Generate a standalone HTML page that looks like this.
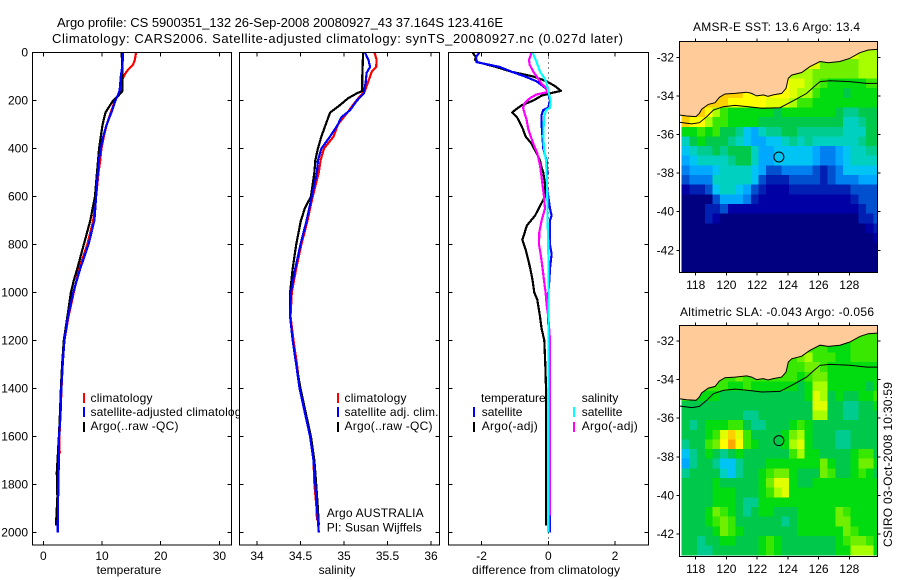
<!DOCTYPE html>
<html>
<head>
<meta charset="utf-8">
<title>Argo profile 5900351_132</title>
<style>
html,body{margin:0;padding:0;background:#fff}
svg{display:block}
text{font-family:"Liberation Sans",sans-serif;font-size:12px;fill:#000}
</style>
</head>
<body>
<svg id="chart" xmlns="http://www.w3.org/2000/svg" width="900" height="580" viewBox="0 0 900 580">
<rect x="0" y="0" width="900" height="580" fill="#fff"/>
<text x="57" y="27" textLength="446" style="font-size:13px">Argo profile: CS 5900351_132 26-Sep-2008 20080927_43 37.164S 123.416E</text>
<text x="52" y="43" textLength="571" style="font-size:13px">Climatology: CARS2006. Satellite-adjusted climatology: synTS_20080927.nc (0.027d later)</text>
<g id="layer"></g>
<text x="693" y="31" textLength="167">AMSR-E SST: 13.6  Argo: 13.4</text>
<text x="680" y="316" textLength="194">Altimetric SLA: -0.043  Argo: -0.056</text>
<text transform="translate(892,547) rotate(-90)" textLength="165">CSIRO 03-Oct-2008 10:30:59</text>
</svg>
<script>
/* ---------- axis tick labels ---------- */
const depthTicks = [0,200,400,600,800,1000,1200,1400,1600,1800,2000];
const tempTicks = [0,10,20,30];
const salTicks = [34,34.5,35,35.5,36];
const diffTicks = [-2,0,2];
const lonTicks = [118,120,122,124,126,128];
const latTicks = [-32,-34,-36,-38,-40,-42];

/* ---------- temperature panel ---------- */
const tempClimDepth = [0,30,50,70,90,110,160,200,250,300,350,400,450,500,600,700,800,900,1000,1100,1200,1300,1400,1500,1600,1670];
const tempClimValue = [15.8,15.6,15.3,14.5,13.9,13.5,13.1,12.2,11.5,10.8,10.3,9.9,9.7,9.4,9.0,8.5,7.5,6.1,5.2,4.3,3.6,3.3,3.1,2.95,2.75,2.8];
const tempSatDepth = [0,50,100,160,200,250,300,350,400,450,500,600,700,800,900,1000,1100,1200,1300,1400,1500,1600,1700,1800,1900,2000];
const tempSatValue = [13.6,13.5,13.2,13.0,12.3,11.6,10.8,10.2,9.8,9.45,9.3,9.0,8.7,7.7,6.3,5.1,4.2,3.6,3.3,3.07,2.95,2.7,2.65,2.55,2.5,2.45];
const tempArgoDepth = [0,100,160,180,200,230,250,300,350,400,500,600,650,700,800,900,950,1000,1100,1200,1300,1400,1500,1600,1750,1850,1950,1970];
const tempArgoValue = [13.35,13.5,13.5,12.8,11.9,11.1,10.6,10.1,9.8,9.5,9.15,8.8,8.4,8.0,6.9,5.8,5.2,4.7,4.1,3.5,3.2,3.0,2.85,2.65,2.3,2.4,2.2,2.2];

/* ---------- salinity panel ---------- */
const salClimDepth = [0,30,60,80,110,160,190,220,250,300,350,400,450,500,600,700,800,900,1000,1100,1200,1300,1400,1500,1600,1700,1800,1900,1950];
const salClimValue = [35.35,35.375,35.37,35.32,35.29,35.24,35.165,35.1,35.04,34.93,34.88,34.77,34.73,34.71,34.64,34.58,34.51,34.45,34.4,34.385,34.42,34.46,34.49,34.55,34.61,34.65,34.66,34.685,34.69];
const salSatDepth = [0,30,60,85,120,170,200,240,270,300,350,400,450,500,600,700,800,900,1000,1100,1200,1300,1400,1500,1600,1700,1800,1900,2000];
const salSatValue = [35.24,35.28,35.30,35.26,35.25,35.23,35.15,35.07,34.97,34.93,34.84,34.74,34.70,34.69,34.63,34.57,34.50,34.44,34.39,34.38,34.41,34.45,34.49,34.55,34.61,34.65,34.67,34.69,34.71];
const salArgoDepth = [0,100,160,170,190,220,250,300,350,400,450,500,600,650,700,800,900,1000,1100,1200,1300,1400,1500,1600,1700,1800,1900,1970];
const salArgoValue = [35.22,35.21,35.21,35.15,35.05,34.95,34.84,34.79,34.74,34.70,34.67,34.66,34.62,34.55,34.505,34.45,34.41,34.38,34.38,34.41,34.45,34.5,34.56,34.62,34.66,34.68,34.7,34.71];

/* ---------- difference panel ---------- */
const diffTempSatDepth = [0,20,40,60,80,100,120,150,170,200,230,240,260,300,400,450,500,550,600,650,680,700,750,800,840,900,950,1000,1100,1500,2000];
const diffTempSatValue = [-2.07,-2.17,-2.15,-1.46,-1.1,-0.7,-0.35,-0.07,0,0.05,0,-0.15,-0.2,-0.2,-0.15,-0.05,-0.03,-0.05,0,0.05,0.1,0.05,0.05,0.05,0.1,0.05,0.03,0,0,0.02,0.05];
const diffTempArgoDepth = [0,20,30,40,60,80,100,120,140,160,170,180,200,220,240,250,270,290,320,350,380,420,450,480,500,550,600,640,680,720,781,820,900,950,1000,1030,1100,1150,1200,1300,1400,1970];
const diffTempArgoValue = [-2.27,-2.17,-2.2,-2.12,-1.57,-1.11,-0.45,-0.05,0.2,0.38,0.05,-0.2,-0.45,-0.8,-1.0,-1.08,-0.94,-0.86,-0.76,-0.68,-0.5,-0.35,-0.25,-0.2,-0.15,-0.1,-0.1,-0.25,-0.4,-0.64,-0.78,-0.68,-0.54,-0.47,-0.42,-0.33,-0.25,-0.2,-0.12,-0.09,-0.07,-0.07];
const diffSalSatDepth = [0,40,80,100,120,160,200,230,240,270,350,400,450,500,600,700,800,1000,1500,2000];
const diffSalSatValue = [-0.47,-0.35,-0.25,-0.15,-0.07,0,0.07,0.05,-0.07,-0.13,-0.15,-0.13,-0.07,-0.05,-0.03,-0.02,0,0.01,0,0];
const diffSalArgoDepth = [0,20,30,50,80,110,130,150,165,175,190,210,230,260,280,320,380,420,470,520,600,650,700,750,800,850,900,950,1000,1050,1100,1200,1930];
const diffSalArgoValue = [-0.5,-0.55,-0.58,-0.56,-0.45,-0.3,-0.2,-0.05,-0.03,-0.35,-0.55,-0.7,-0.76,-0.7,-0.65,-0.6,-0.45,-0.33,-0.25,-0.2,-0.13,-0.1,-0.2,-0.27,-0.28,-0.22,-0.17,-0.13,-0.08,-0.05,0,0.05,0.05];

/* ---------- map data: colour-scale level for each half-degree cell ---------- */
const sstLevels = [
[14,14,14,14,14,14,14,14,14,14,14,14,14,14,14,14,14,14,14,14,14,14,14,13,13,13],
[14,14,14,14,14,14,14,14,14,14,14,14,14,14,14,14,14,14,12,12,12,12,12,13,13,13],
[14,14,14,14,14,14,14,14,14,14,14,14,14,14,13,13,13,12,12,12,12,12,12,13,13,13],
[15,15,15,15,15,15,15,15,15,15,15,15,15,15,14,14,13,12,11,10,10,10,10,10,11,11],
[16,16,16,16,16,16,16,16,15,15,15,15,15,15,14,13,13,11,10,10,10,9,10,10,10,10],
[17,17,17,16,16,16,15,15,15,15,15,14,14,14,13,11,11,10,10,10,10,10,10,10,10,10],
[16,16,16,15,13,11,10,10,10,10,10,10,9,10,10,10,10,10,10,10,9,8,8,9,9,9],
[16,15,15,13,11,11,10,10,10,10,9,9,9,9,9,9,9,9,9,9,9,7,7,8,9,9],
[10,10,11,10,11,9,9,8,6,5,7,8,8,9,9,8,8,8,8,8,8,7,7,7,9,9],
[7,9,10,9,9,9,8,7,6,5,5,6,6,7,8,7,8,7,7,7,7,7,7,8,9,9],
[6,7,8,8,9,8,9,9,9,7,5,5,6,6,6,6,6,5,4,4,5,6,7,7,8,8],
[5,6,7,7,7,7,8,9,9,7,5,5,6,6,6,6,6,5,4,4,5,6,7,7,7,7],
[4,5,5,5,6,7,7,7,7,6,5,3,3,4,4,4,4,3,2,3,4,6,6,6,6,6],
[3,4,4,4,7,7,7,7,7,6,3,2,2,2,3,3,3,3,2,3,4,4,4,5,5,5],
[1,2,2,3,6,7,7,6,5,3,2,1,1,1,2,2,2,2,2,2,2,2,3,3,3,3],
[0,0,0,0,3,5,5,5,4,2,1,1,1,1,1,1,1,1,1,1,1,1,2,3,3,3],
[0,0,0,2,2,3,1,1,1,1,1,1,1,1,1,1,1,1,1,1,1,1,1,2,3,3],
[0,0,0,2,1,0,0,0,0,0,0,0,0,0,0,0,0,0,0,0,0,0,0,2,2,3],
[0,0,0,0,0,0,0,0,0,0,0,0,0,0,0,0,0,0,0,0,0,0,0,0,1,2],
[0,0,0,0,0,0,0,0,0,0,0,0,0,0,0,0,0,0,0,0,0,0,0,0,0,1],
[0,0,0,0,0,0,0,0,0,0,0,0,0,0,0,0,0,0,0,0,0,0,0,0,0,0],
[0,0,0,0,0,0,0,0,0,0,0,0,0,0,0,0,0,0,0,0,0,0,0,0,0,0],
[0,0,0,0,0,0,0,0,0,0,0,0,0,0,0,0,0,0,0,0,0,0,0,0,0,0]
];
const slaLevels = [
[11,11,11,11,11,11,11,11,11,11,11,11,11,11,11,11,11,11,11,11,11,11,11,11,11,11],
[11,11,11,11,11,11,11,11,11,11,11,11,11,11,11,11,11,11,11,10,10,10,11,11,11,11],
[11,11,11,11,11,11,11,11,11,11,11,11,11,11,11,12,13,11,11,11,10,10,11,11,11,11],
[11,11,11,11,11,11,11,11,11,11,11,11,11,11,11,11,12,12,11,10,10,10,10,10,10,10],
[11,11,11,11,11,11,11,12,11,11,11,11,11,11,11,10,11,12,12,10,10,10,10,10,10,10],
[11,11,11,11,11,11,10,10,11,10,10,10,10,10,10,9,10,13,13,10,10,10,10,10,9,10],
[11,10,10,10,10,9,9,9,9,9,9,9,9,9,9,9,10,14,13,9,10,9,9,10,10,11],
[9,9,9,9,9,9,9,9,9,9,9,9,9,9,9,9,9,14,14,9,9,8,8,9,9,10],
[9,9,9,9,9,9,9,9,8,8,9,9,9,9,9,9,9,13,13,9,9,8,8,9,9,9],
[9,8,9,10,10,10,11,11,9,8,8,9,9,9,10,11,10,9,9,9,9,9,9,9,9,9],
[9,9,9,10,11,14,16,14,11,9,9,9,9,10,12,13,10,9,9,9,8,8,9,9,9,9],
[8,9,9,11,12,15,17,15,11,10,9,9,9,10,13,14,10,9,9,9,8,8,9,9,9,9],
[6,8,9,10,9,8,9,10,9,9,9,9,9,9,11,13,10,10,9,9,9,9,10,11,11,9],
[5,8,9,9,8,6,6,8,9,9,9,10,10,10,10,10,10,10,12,10,9,9,10,12,12,10],
[8,9,9,9,9,7,6,8,9,9,10,11,12,12,10,9,9,9,12,11,9,9,10,11,10,9],
[9,9,9,9,10,9,9,9,9,9,10,12,14,14,10,9,9,10,10,10,10,10,10,10,10,10],
[9,9,9,9,10,10,10,9,9,9,10,11,13,14,10,10,10,10,10,10,10,10,10,10,10,10],
[9,9,9,9,10,10,10,9,8,8,10,10,10,10,10,10,10,10,10,10,10,10,10,10,10,10],
[9,9,9,10,12,11,10,9,8,9,10,10,9,9,9,10,10,10,10,10,12,11,10,10,10,10],
[9,9,9,10,11,12,11,9,9,9,9,9,9,8,9,10,10,10,10,10,12,12,10,10,10,10],
[9,9,9,9,10,12,11,10,9,9,9,9,9,9,9,10,10,10,10,10,10,12,11,10,10,10],
[9,9,8,9,9,10,10,9,9,9,10,11,10,9,9,9,9,9,9,9,10,11,12,12,11,10],
[9,9,8,8,9,9,9,9,9,9,10,11,10,9,9,9,9,9,9,9,10,10,13,13,13,10]
];
const coastLon = [116.93,117.41,118.02,118.24,118.39,118.82,119.26,119.54,119.91,120.56,121.32,121.64,121.97,122.40,122.7,123.05,123.60,123.88,124.03,124.25,124.90,125.44,126.09,126.63,127.39,128.04,128.69,129.24,129.82];
const coastLat = [-34.99,-35.04,-35.07,-34.90,-34.69,-34.44,-34.35,-34.07,-33.90,-33.87,-33.81,-33.87,-34.0,-33.95,-34.02,-33.95,-33.87,-33.61,-33.09,-32.92,-32.79,-32.48,-32.22,-32.28,-32.22,-32.05,-31.76,-31.62,-31.59];
const isobathLon = [116.93,117.74,118.24,118.72,119.15,119.80,120.56,121.43,122.30,123.49,124.36,125.22,125.66,126.09,126.74,128.04,129.13,129.82];
const isobathLat = [-35.37,-35.45,-35.39,-35.07,-34.73,-34.56,-34.49,-34.56,-34.64,-34.61,-34.25,-33.87,-33.55,-33.26,-33.21,-33.26,-33.35,-33.35];
const floatLon = [123.416];
const floatLat = [-37.164];

/* ---------- rendering (styles and geometry) ---------- */
const NS = 'http://www.w3.org/2000/svg';
const layer = document.getElementById('layer');
const palette = ['#000080','#0000a4','#0020b4','#0050d0','#0080f0','#00a8ff','#00c4f4','#00d0c0','#00cc90','#00c84a','#00dc10','#38e800','#70f000','#a8ff00','#e0ff00','#ffff00','#ffd000','#ffa800'];
const landColour = '#ffcc99';
const CELL_DEG = 0.5;
const GRID_LON0 = 117.09;
const GRID_LAT0 = -31.6;
const GRID_LON1 = 129.82;
const GRID_LAT1 = -43.1;

function yDepth(d){ return 52.5 + 0.24*d; }
function xTemp(v){ return 43.3 + 5.87*v; }
function xSal(v){ return 257 + 87*(v-34); }
function xDiff(v){ return 548.3 + 33.33*v; }
function xLon(v){ return 695.7 + 15.36*(v-118); }
function mapY(top){ return function(lat){ return top + 19.3*(-32-lat); }; }

function node(tag, attrs, parent){
  const el = document.createElementNS(NS, tag);
  for (const k in attrs) el.setAttribute(k, attrs[k]);
  (parent || layer).appendChild(el);
  return el;
}

function drawPanel(name, box, ticks, xScale, tickFmt){
  const bg = node('rect', {x:box.x0, y:box.y0, width:box.x1-box.x0, height:box.y1-box.y0, fill:'#fff'});
  
  
  ticks.forEach(function(t){
    const x = xScale(t);
    const top = node('line', {x1:x, x2:x, y1:box.y0, y2:box.y0+4, stroke:'#000', 'shape-rendering':'crispEdges'});
    
    
    const bot = node('line', {x1:x, x2:x, y1:box.y1, y2:box.y1-4, stroke:'#000', 'shape-rendering':'crispEdges'});
    
    
    const lab = node('text', {x:x, y:560, 'text-anchor':'middle'});
    lab.textContent = tickFmt(t);
    
    
  });
  depthTicks.forEach(function(d){
    const y = yDepth(d);
    const l = node('line', {x1:box.x0, x2:box.x0+4, y1:y, y2:y, stroke:'#000', 'shape-rendering':'crispEdges'});
    
    
    const r = node('line', {x1:box.x1, x2:box.x1-4, y1:y, y2:y, stroke:'#000', 'shape-rendering':'crispEdges'});
    
    
  });
}

function panelFrame(name, box){
  const f = node('rect', {x:box.x0, y:box.y0, width:box.x1-box.x0, height:box.y1-box.y0, fill:'none', stroke:'#000', 'stroke-width':1.2, 'shape-rendering':'crispEdges'});
  
  
}

function drawProfile(name, depths, values, xScale, colour){
  const pts = depths.map(function(d, i){ return xScale(values[i]).toFixed(1) + ',' + yDepth(d).toFixed(1); }).join(' ');
  const p = node('polyline', {points:pts, fill:'none', stroke:colour, 'stroke-width':2.2, 'shape-rendering':'crispEdges', 'stroke-linejoin':'round'});
  
  
}

function label(name, x, y, str, anchor, width){
  const t = node('text', {x:x, y:y, 'text-anchor':anchor || 'start'});
  if (width) t.setAttribute('textLength', width);
  t.textContent = str;
  
  
  return t;
}

function swatch(name, x, y, colour){
  const r = node('rect', {x:x, y:y, width:2, height:10, fill:colour, 'shape-rendering':'crispEdges'});
  
  
}

const P1 = {x0:32.5, x1:231.5, y0:52.5, y1:545};
const P2 = {x0:239.5, x1:439.5, y0:52.5, y1:545};
const P3 = {x0:448.5, x1:648.5, y0:52.5, y1:545};

/* Panel 1: temperature */
drawPanel('temperature-panel', P1, tempTicks, xTemp, String);
drawProfile('temperature-climatology-line', tempClimDepth, tempClimValue, xTemp, '#ff0000');
drawProfile('temperature-argo-line', tempArgoDepth, tempArgoValue, xTemp, '#000000');
drawProfile('temperature-satellite-line', tempSatDepth, tempSatValue, xTemp, '#0000ff');
panelFrame('temperature-panel', P1);
depthTicks.forEach(function(d){
  label('depth-tick-label', 28, yDepth(d)+4, String(d), 'end');
});
label('temperature-x-axis-title', 129, 574, 'temperature', 'middle');
swatch('temperature-legend-climatology-swatch', 83, 393, '#ff0000');
swatch('temperature-legend-satellite-swatch', 83, 407, '#0000ff');
swatch('temperature-legend-argo-swatch', 83, 422, '#000000');
label('temperature-legend-climatology', 90.5, 402, 'climatology', 'start', 62);
label('temperature-legend-satellite', 90.5, 416, 'satellite-adjusted climatology', 'start', 157);
label('temperature-legend-argo', 90.5, 430, 'Argo(..raw -QC)', 'start', 88);

/* Panel 2: salinity (its white area covers the overflowing legend text) */
drawPanel('salinity-panel', P2, salTicks, xSal, String);
drawProfile('salinity-climatology-line', salClimDepth, salClimValue, xSal, '#ff0000');
drawProfile('salinity-argo-line', salArgoDepth, salArgoValue, xSal, '#000000');
drawProfile('salinity-satellite-line', salSatDepth, salSatValue, xSal, '#0000ff');
panelFrame('salinity-panel', P2);
label('salinity-x-axis-title', 337, 574, 'salinity', 'middle');
swatch('salinity-legend-climatology-swatch', 337, 393, '#ff0000');
swatch('salinity-legend-satellite-swatch', 337, 407, '#0000ff');
swatch('salinity-legend-argo-swatch', 337, 422, '#000000');
label('salinity-legend-climatology', 344.5, 402, 'climatology', 'start', 62);
label('salinity-legend-satellite', 344.5, 416, 'satellite adj. clim.', 'start', 94);
label('salinity-legend-argo', 344.5, 430, 'Argo(..raw -QC)', 'start', 88);
label('argo-australia-label', 326.7, 517, 'Argo AUSTRALIA', 'start', 97);
label('principal-investigator-label', 326.7, 531.5, 'PI: Susan Wijffels', 'start', 95);

/* Panel 3: difference */
drawPanel('difference-panel', P3, diffTicks, xDiff, String);
const zero = node('line', {x1:xDiff(0), x2:xDiff(0), y1:P3.y0, y2:P3.y1, stroke:'#000', 'stroke-dasharray':'1 4', 'shape-rendering':'crispEdges'});


drawProfile('difference-temperature-argo-line', diffTempArgoDepth, diffTempArgoValue, xDiff, '#000000');
drawProfile('difference-temperature-satellite-line', diffTempSatDepth, diffTempSatValue, xDiff, '#0000ff');
drawProfile('difference-salinity-argo-line', diffSalArgoDepth, diffSalArgoValue, xDiff, '#ff00ff');
drawProfile('difference-salinity-satellite-line', diffSalSatDepth, diffSalSatValue, xDiff, '#00ffff');
panelFrame('difference-panel', P3);
label('difference-x-axis-title', 546, 574, 'difference from climatology', 'middle', 148);
label('difference-legend-temperature-heading', 481, 402, 'temperature');
label('difference-legend-temperature-satellite', 481.7, 416, 'satellite');
label('difference-legend-temperature-argo', 481.7, 430, 'Argo(-adj)', 'start', 56);
swatch('difference-legend-temperature-satellite-swatch', 473, 407, '#0000ff');
swatch('difference-legend-temperature-argo-swatch', 473, 422, '#000000');
label('difference-legend-salinity-heading', 581.7, 402, 'salinity');
label('difference-legend-salinity-satellite', 581.7, 416, 'satellite');
label('difference-legend-salinity-argo', 581.7, 430, 'Argo(-adj)', 'start', 56);
swatch('difference-legend-salinity-satellite-swatch', 573, 407, '#00ffff');
swatch('difference-legend-salinity-argo-swatch', 573, 422, '#ff00ff');

/* Maps */
function drawMap(name, levels, top, box, labelBaseline){
  const yLat = mapY(top);
  const group = node('g', {});
  
  
  levels.forEach(function(row, r){
    row.forEach(function(level, c){
      const lon0 = GRID_LON0 + CELL_DEG*c;
      const lat0 = GRID_LAT0 - CELL_DEG*r;
      const lon1 = Math.min(lon0 + CELL_DEG, GRID_LON1);
      const lat1 = Math.max(lat0 - CELL_DEG, GRID_LAT1);
      const cell = node('rect', {x:xLon(lon0), y:yLat(lat0), width:xLon(lon1)-xLon(lon0)+0.4, height:yLat(lat1)-yLat(lat0)+0.4, fill:palette[level], 'shape-rendering':'crispEdges'}, group);
      
      
    });
  });
  const coastPts = coastLon.map(function(lon, i){ return xLon(lon).toFixed(1) + ',' + yLat(coastLat[i]).toFixed(1); });
  const land = node('polygon', {points:coastPts.join(' ') + ' ' + box.x1 + ',' + box.y0 + ' ' + box.x0 + ',' + box.y0, fill:landColour, stroke:'none'});
  
  
  const coast = node('polyline', {points:coastPts.join(' '), fill:'none', stroke:'#000', 'stroke-width':1});
  
  
  const isoPts = isobathLon.map(function(lon, i){ return xLon(lon).toFixed(1) + ',' + yLat(isobathLat[i]).toFixed(1); }).join(' ');
  const iso = node('polyline', {points:isoPts, fill:'none', stroke:'#000', 'stroke-width':1});
  
  
  const mark = node('circle', {cx:xLon(floatLon[0]), cy:yLat(floatLat[0]), r:5, fill:'none', stroke:'#000', 'stroke-width':1});
  
  
  const frame = node('rect', {x:box.x0, y:box.y0, width:box.x1-box.x0, height:box.y1-box.y0, fill:'none', stroke:'#000', 'shape-rendering':'crispEdges'});
  
  
  lonTicks.forEach(function(lon){
    const x = xLon(lon);
    const a = node('line', {x1:x, x2:x, y1:box.y0, y2:box.y0-3, stroke:'#000', 'shape-rendering':'crispEdges'});
    
    
    const b = node('line', {x1:x, x2:x, y1:box.y1, y2:box.y1+3, stroke:'#000', 'shape-rendering':'crispEdges'});
    
    
    label(name + '-lon-tick-label', x, labelBaseline, String(lon), 'middle');
  });
  latTicks.forEach(function(lat){
    const y = yLat(lat);
    const a = node('line', {x1:box.x0, x2:box.x0-3, y1:y, y2:y, stroke:'#000', 'shape-rendering':'crispEdges'});
    
    
    const b = node('line', {x1:box.x1, x2:box.x1+3, y1:y, y2:y, stroke:'#000', 'shape-rendering':'crispEdges'});
    
    
    label(name + '-lat-tick-label', 674, y+4, String(lat), 'end');
  });
}
drawMap('sst-map', sstLevels, 57.3, {x0:679.5, x1:877.5, y0:41.5, y1:272.5}, 289);
drawMap('sla-map', slaLevels, 341, {x0:679.5, x1:877.5, y0:325.5, y1:556.5}, 573);
</script>
</body>
</html>
